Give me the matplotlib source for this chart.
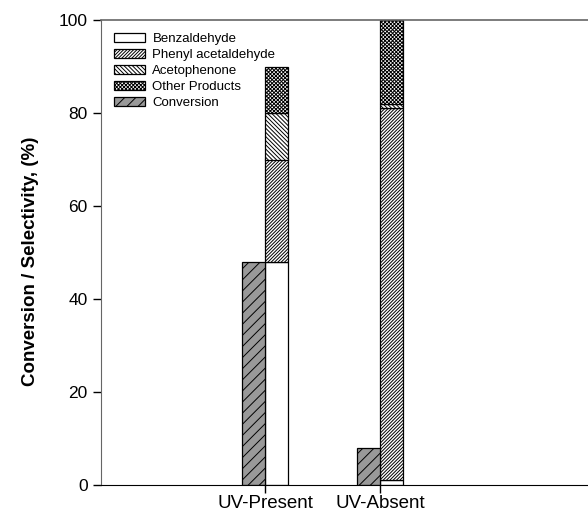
import numpy as np
import matplotlib
matplotlib.use('Agg')
import matplotlib.pyplot as plt

plt.rcParams['font.family'] = ['Liberation Sans', 'DejaVu Sans']
plt.rcParams['hatch.linewidth'] = 0.7

categories          = ['UV-Present', 'UV-Absent']
conversion          = [48, 8]
benzaldehyde        = [48, 1]
phenyl_acetaldehyde = [22, 80]
acetophenone        = [10, 1]
other_products      = [10, 18]

x = np.arange(1, len(categories) + 1)
width = 0.204

fig = plt.figure(figsize=(5.88, 5.11), dpi=100)
ax = fig.add_axes([101 / 588, 26 / 511, 487 / 588, 465 / 511])

# stacked selectivity bar to the right of each tick
bottom = np.zeros(len(categories))
layers = [
    (benzaldehyde,        'Benzaldehyde',        None),
    (phenyl_acetaldehyde, 'Phenyl acetaldehyde', '/' * 10),
    (acetophenone,        'Acetophenone',        '\\' * 8),
    (other_products,      'Other Products',      'x' * 9),
]
for vals, label, hatch in layers:
    ax.bar(x + width / 2, vals, width, bottom=bottom, color='white',
           edgecolor='black', linewidth=0.9, hatch=hatch, label=label)
    bottom += np.array(vals)

# conversion bar to the left of each tick
ax.bar(x - width / 2, conversion, width, color='#999999', edgecolor='black',
       linewidth=0.9, hatch='///', label='Conversion')

ax.set_xlim(1 - 164 / 115, 2 + 208 / 115)
ax.set_ylim(0, 100)
ax.set_xticks(x)
ax.set_xticklabels(categories, fontsize=13.5)
ax.set_yticks([0, 20, 40, 60, 80, 100])
ax.tick_params(axis='y', labelsize=12.5, direction='out', length=6, width=1)
ax.tick_params(axis='x', direction='out', length=6, width=1, pad=1)
ax.set_ylabel('Conversion / Selectivity, (%)', fontsize=13.5, fontweight='bold')
ax.yaxis.set_label_coords(-0.127, 0.48)

ax.spines['right'].set_visible(False)
ax.spines['top'].set_color('#666666')
ax.spines['left'].set_color('#666666')
ax.spines['top'].set_linewidth(1.2)

ax.legend(loc='upper left', bbox_to_anchor=(0.0, 1.0), frameon=False,
          fontsize=9.5, handlelength=2.3, handleheight=0.65, labelspacing=0.3,
          handletextpad=0.6, borderaxespad=0.6)

fig.savefig('out.png', dpi=100)
